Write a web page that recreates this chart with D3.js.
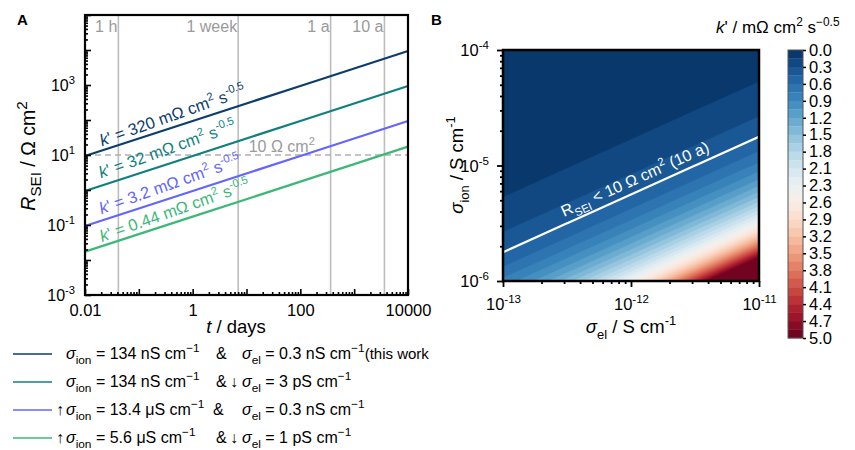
<!DOCTYPE html>
<html>
<head>
<meta charset="utf-8">
<script src="https://cdn.jsdelivr.net/npm/d3@7"></script>
<style>
  body { margin: 0; background: #fff; }
  svg { font-family: "Liberation Sans", Arial, sans-serif; }
</style>
</head>
<body>
<div id="chart"></div>
<script>
// ---- panel A data: R_SEI (Ohm cm2) vs t (days), straight lines in log-log
var tDays = [0.01, 1, 100, 10000];
var rThisWork = [9.41, 94.1, 941, 9406];
var rLowEl = [0.941, 9.41, 94.1, 941];
var rHighIon = [0.0941, 0.941, 9.41, 94.1];
var rBoth = [0.0173, 0.173, 1.73, 17.3];
var kLabels = ["320", "32", "3.2", "0.44"];

var timeMarks = [1 / 24, 7, 365, 3650];
var timeLabels = ["1 h", "1 week", "1 a", "10 a"];
var rLimit = 10;

var legendIon = ["134 nS cm", "134 nS cm", "13.4 \u03bcS cm", "5.6 \u03bcS cm"];
var legendEl = ["0.3 nS cm", "3 pS cm", "0.3 nS cm", "1 pS cm"];
var ionArrow = ["", "", "\u2191", "\u2191"];
var elArrow = ["", "\u2193", "", "\u2193"];
var legendNote = ["(this work", "", "", ""];

// ---- panel B data: k' (mOhm cm2 s^-0.5) on a grid of sigma_el x sigma_ion
var sigmaEl = [1e-13, 3.16e-13, 1e-12, 3.16e-12, 1e-11];
var sigmaIon = [1e-6, 3.16e-6, 1e-5, 3.16e-5, 1e-4];
var kGrid = [
    [0.78, 1.39, 2.47, 4.39, 7.80],
    [0.247, 0.439, 0.780, 1.39, 2.47],
    [0.078, 0.139, 0.247, 0.439, 0.780],
    [0.0247, 0.0439, 0.078, 0.139, 0.247],
    [0.0078, 0.0139, 0.0247, 0.0439, 0.078]
];
var kContour = 0.44;
var cbLabels = ["0.0", "0.3", "0.6", "0.9", "1.2", "1.5", "1.8", "2.1", "2.3",
                "2.6", "2.9", "3.2", "3.5", "3.8", "4.1", "4.4", "4.7", "5.0"];

var lineColors = ["#0b3d6d", "#0f7f7f", "#6464ff", "#3cb878"];
var series = [rThisWork, rLowEl, rHighIon, rBoth];

var svg = d3.select("#chart").append("svg")
    .attr("width", 855).attr("height", 450);

// rich text helper: parts = [{t, it, sub, sup, fs}]
function rich(sel, parts, size, subScale) {
    var base = 0, sc = subScale || 0.7;
    parts.forEach(function(p) {
        var s = sel.append("tspan").text(p.t);
        var shift = p.sub ? size * 0.3 : (p.sup ? -size * 0.42 : 0);
        if (shift - base !== 0) s.attr("dy", shift - base);
        base = shift;
        if (p.sub || p.sup) s.attr("font-size", size * sc);
        if (p.fs) s.attr("font-size", p.fs);
        if (p.it) s.attr("font-style", "italic");
    });
    return sel;
}

function minorTicks(lo, hi) {
    var out = [];
    for (var d = lo; d < hi; d++) {
        for (var m = 2; m < 10; m++) out.push(m * Math.pow(10, d));
    }
    return out;
}

function logInterp(xs, ys, x) {
    var lx = Math.log10(x), l0 = Math.log10(xs[0]), l1 = Math.log10(xs[1]);
    var f = (lx - l0) / (l1 - l0);
    return Math.pow(10, Math.log10(ys[0]) + f * (Math.log10(ys[1]) - Math.log10(ys[0])));
}

// ================= Panel A =================
var xA = d3.scaleLog().domain([0.01, 10000]).range([85, 408]);
var yA = d3.scaleLog().domain([1e-3, 1e5]).range([295, 15]);

svg.append("text").attr("x", 17).attr("y", 25)
    .attr("font-size", 15).attr("font-weight", "bold").text("A");

var gA = svg.append("g");

// time markers
gA.selectAll("line.tm").data(timeMarks).enter().append("line")
    .attr("x1", d => xA(d)).attr("x2", d => xA(d))
    .attr("y1", yA(1e5)).attr("y2", yA(1e-3))
    .attr("stroke", "#bdbdbd").attr("stroke-width", 1.6);
gA.selectAll("text.tm").data(timeMarks).enter().append("text")
    .attr("x", d => xA(d) - 1).attr("y", 32)
    .attr("text-anchor", "end").attr("font-size", 16).attr("fill", "#9a9a9a")
    .text((d, i) => timeLabels[i]);

// 10 Ohm cm2 limit
gA.append("line")
    .attr("x1", xA(0.01)).attr("x2", xA(10000))
    .attr("y1", yA(rLimit)).attr("y2", yA(rLimit))
    .attr("stroke", "#b0b0b0").attr("stroke-width", 1.6)
    .attr("stroke-dasharray", "6,4");
rich(gA.append("text").attr("x", xA(11)).attr("y", yA(rLimit) - 3)
    .attr("font-size", 16).attr("fill", "#9a9a9a"),
    [{t: rLimit + " \u03a9 cm"}, {t: "2", sup: true}], 16);

// lines
var lineA = d3.line().x((d, i) => xA(tDays[i])).y(d => yA(d));
series.forEach(function(s, i) {
    gA.append("path").datum(s).attr("d", lineA)
        .attr("fill", "none").attr("stroke", lineColors[i]).attr("stroke-width", 2.2);
});

// rotated labels along the lines
var slopeAng = Math.atan2(yA(rThisWork[3]) - yA(rThisWork[0]), xA(tDays[3]) - xA(tDays[0])) * 180 / Math.PI;
var labelDy = [-4, -7, -6, -4];
series.forEach(function(s, i) {
    var t0 = 0.022;
    var px = xA(t0), py = yA(logInterp(tDays, s, t0));
    var txt = gA.append("text")
        .attr("transform", "translate(" + px + "," + py + ") rotate(" + (slopeAng - 1.5) + ")")
        .attr("y", labelDy[i])
        .attr("font-size", 16.5).attr("fill", lineColors[i]);
    rich(txt, [{t: "k", it: true}, {t: "' = " + kLabels[i] + " m\u03a9 cm"},
               {t: "2", sup: true}, {t: " s"}, {t: "-0.5", sup: true}], 16.5, 0.68);
});

// axes (ticks inward)
var axBA = gA.append("g").attr("transform", "translate(0,295)");
axBA.call(d3.axisBottom(xA).tickValues(minorTicks(-2, 4)).tickSizeInner(-3).tickSizeOuter(0).tickFormat(""));
axBA.call(g => g.select(".domain").remove());
var axBA2 = gA.append("g").attr("transform", "translate(0,295)");
axBA2.call(d3.axisBottom(xA).tickValues([0.01, 0.1, 1, 10, 100, 1000, 10000])
    .tickSizeInner(-6).tickSizeOuter(0).tickPadding(9)
    .tickFormat(d => [0.01, 1, 100, 10000].indexOf(d) >= 0 ? String(d) : ""));
axBA2.call(g => g.select(".domain").remove());
axBA2.selectAll("text").attr("font-size", 16.5).attr("fill", "#000").attr("font-family", "Liberation Sans, Arial");

var axLA = gA.append("g").attr("transform", "translate(85,0)");
axLA.call(d3.axisLeft(yA).tickValues(minorTicks(-3, 5)).tickSizeInner(-3).tickSizeOuter(0).tickFormat(""));
axLA.call(g => g.select(".domain").remove());
var axLA2 = gA.append("g").attr("transform", "translate(85,0)");
axLA2.call(d3.axisLeft(yA).tickValues(d3.range(-3, 6).map(e => Math.pow(10, e)))
    .tickSizeInner(-6).tickSizeOuter(0).tickPadding(11).tickFormat(""));
axLA2.call(g => g.select(".domain").remove());
axLA2.selectAll(".tick").each(function(d) {
    var e = Math.round(Math.log10(d));
    if ([-3, -1, 1, 3].indexOf(e) < 0) return;
    var t = d3.select(this).select("text").attr("font-size", 16).attr("fill", "#000")
        .attr("font-family", "Liberation Sans, Arial").attr("dy", "0.35em").attr("x", -10);
    rich(t, [{t: "10"}, {t: String(e), sup: true}], 16);
});
[axBA, axBA2, axLA, axLA2].forEach(g => g.selectAll("line").attr("stroke-width", 1.6));

gA.append("rect").attr("x", 85).attr("y", 15).attr("width", 323).attr("height", 280)
    .attr("fill", "none").attr("stroke", "#000").attr("stroke-width", 2.2);

rich(svg.append("text").attr("transform", "translate(236,333)")
    .attr("text-anchor", "middle").attr("font-size", 18.5),
    [{t: "t", it: true}, {t: " / days"}], 18.5);
rich(svg.append("text").attr("transform", "translate(35,156) rotate(-90)")
    .attr("text-anchor", "middle").attr("font-size", 19.5),
    [{t: "R", it: true}, {t: "SEI", sub: true}, {t: " / \u03a9 cm"}, {t: "2", sup: true}], 19.5, 0.78);

// legend
var legendG = svg.append("g");
legendIon.forEach(function(d, i) {
    var y = 354 + i * 28;
    legendG.append("line").attr("x1", 13).attr("x2", 52).attr("y1", y).attr("y2", y)
        .attr("stroke", lineColors[i]).attr("stroke-width", 1.6);
    var fs = 16;
    if (ionArrow[i]) legendG.append("text").attr("x", 56).attr("y", y + 5).attr("font-size", fs).text(ionArrow[i]);
    rich(legendG.append("text").attr("x", 66).attr("y", y + 5).attr("font-size", fs),
        [{t: "\u03c3", it: true}, {t: "ion", sub: true}, {t: " = " + d}, {t: "\u22121", sup: true}], fs, 0.74);
    legendG.append("text").attr("x", i === 2 ? 213 : 216).attr("y", y + 5).attr("font-size", fs).text("&");
    if (elArrow[i]) legendG.append("text").attr("x", 230).attr("y", y + 5).attr("font-size", fs).text(elArrow[i]);
    var parts = [{t: "\u03c3", it: true}, {t: "el", sub: true}, {t: " = " + legendEl[i]}, {t: "\u22121", sup: true}];
    if (legendNote[i]) parts.push({t: legendNote[i], fs: 15});
    rich(legendG.append("text").attr("x", 242).attr("y", y + 5).attr("font-size", fs), parts, fs, 0.74);
});

// ================= Panel B =================
var xB = d3.scaleLog().domain([1e-13, 1e-11]).range([503, 759]);
var yB = d3.scaleLog().domain([1e-6, 1e-4]).range([281, 50]);

svg.append("text").attr("x", 431).attr("y", 25)
    .attr("font-size", 15).attr("font-weight", "bold").text("B");

var nBands = 34;
var kLevels = d3.range(nBands + 1).map(i => i * 5 / nBands);
var bandColor = i => d3.interpolateRdBu(1 - (i + 0.5) / nBands);

var defs = svg.append("defs");
defs.append("clipPath").attr("id", "clipB").append("rect")
    .attr("x", 503).attr("y", 50).attr("width", 256).attr("height", 231);

var gB = svg.append("g").attr("clip-path", "url(#clipB)");
var nx = sigmaEl.length, ny = sigmaIon.length;
var lx0 = Math.log10(sigmaEl[0]), dlx = (Math.log10(sigmaEl[nx - 1]) - lx0) / (nx - 1);
var ly0 = Math.log10(sigmaIon[0]), dly = (Math.log10(sigmaIon[ny - 1]) - ly0) / (ny - 1);
var gridProj = d3.geoTransform({
    point: function(cx, cy) {
        this.stream.point(xB(Math.pow(10, lx0 + (cx - 0.5) * dlx)),
                          yB(Math.pow(10, ly0 + (cy - 0.5) * dly)));
    }
});
var gridPath = d3.geoPath(gridProj);
var logValues = [];
kGrid.forEach(row => row.forEach(v => logValues.push(Math.log10(v))));

gB.append("rect").attr("x", 503).attr("y", 50).attr("width", 256).attr("height", 231)
    .attr("fill", bandColor(0));
var bands = d3.contours().size([nx, ny])
    .thresholds(kLevels.slice(1, nBands).map(Math.log10))(logValues);
gB.selectAll("path.band").data(bands).enter().append("path")
    .attr("d", gridPath)
    .attr("fill", (d, i) => bandColor(i + 1))
    .attr("stroke", (d, i) => bandColor(i + 1)).attr("stroke-width", 0.5);

var limit = d3.contours().size([nx, ny]).thresholds([Math.log10(kContour)])(logValues);
gB.append("path").datum(limit[0]).attr("d", gridPath)
    .attr("fill", "none").attr("stroke", "#fff").attr("stroke-width", 2.2);

// label along the white contour
function crossIon(col) {
    var lk = Math.log10(kContour);
    for (var j = 0; j < ny - 1; j++) {
        var a = Math.log10(kGrid[j][col]), b = Math.log10(kGrid[j + 1][col]);
        if ((a - lk) * (b - lk) <= 0) {
            var f = (lk - a) / (b - a);
            return Math.pow(10, Math.log10(sigmaIon[j]) + f * (Math.log10(sigmaIon[j + 1]) - Math.log10(sigmaIon[j])));
        }
    }
}
var pL = [xB(sigmaEl[0]), yB(crossIon(0))], pR = [xB(sigmaEl[nx - 1]), yB(crossIon(nx - 1))];
var angB = Math.atan2(pR[1] - pL[1], pR[0] - pL[0]) * 180 / Math.PI;
var fL = 0.25;
var lp = [pL[0] + fL * (pR[0] - pL[0]), pL[1] + fL * (pR[1] - pL[1])];
rich(svg.append("text")
    .attr("transform", "translate(" + lp[0] + "," + lp[1] + ") rotate(" + angB + ")")
    .attr("y", -7).attr("font-size", 16).attr("fill", "#fff"),
    [{t: "R"}, {t: "SEI", sub: true}, {t: " < 10 \u03a9 cm"}, {t: "2", sup: true}, {t: " (10 a)"}], 16);

// axes B (ticks outward)
var gBx = svg.append("g").attr("transform", "translate(0,281)");
gBx.call(d3.axisBottom(xB).tickValues(minorTicks(-13, -11)).tickSizeInner(3).tickSizeOuter(0).tickFormat(""));
gBx.call(g => g.select(".domain").remove());
var gBx2 = svg.append("g").attr("transform", "translate(0,281)");
gBx2.call(d3.axisBottom(xB).tickValues([1e-13, 1e-12, 1e-11]).tickSizeInner(6).tickSizeOuter(0).tickPadding(11).tickFormat(""));
gBx2.call(g => g.select(".domain").remove());
gBx2.selectAll(".tick text").each(function(d) {
    var t = d3.select(this).attr("font-size", 16.5).attr("fill", "#000")
        .attr("font-family", "Liberation Sans, Arial");
    rich(t, [{t: "10"}, {t: String(Math.round(Math.log10(d))), sup: true}], 16.5);
});
var gBy = svg.append("g").attr("transform", "translate(503,0)");
gBy.call(d3.axisLeft(yB).tickValues(minorTicks(-6, -4)).tickSizeInner(3).tickSizeOuter(0).tickFormat(""));
gBy.call(g => g.select(".domain").remove());
var gBy2 = svg.append("g").attr("transform", "translate(503,0)");
gBy2.call(d3.axisLeft(yB).tickValues([1e-6, 1e-5, 1e-4]).tickSizeInner(6).tickSizeOuter(0).tickPadding(8).tickFormat(""));
gBy2.call(g => g.select(".domain").remove());
gBy2.selectAll(".tick text").each(function(d) {
    var t = d3.select(this).attr("font-size", 16.5).attr("fill", "#000")
        .attr("font-family", "Liberation Sans, Arial").attr("dy", "0.35em");
    rich(t, [{t: "10"}, {t: String(Math.round(Math.log10(d))), sup: true}], 16.5);
});
[gBx, gBx2, gBy, gBy2].forEach(g => g.selectAll("line").attr("stroke-width", 1.8));

svg.append("rect").attr("x", 503).attr("y", 50).attr("width", 256).attr("height", 231)
    .attr("fill", "none").attr("stroke", "#000").attr("stroke-width", 2.5);

rich(svg.append("text").attr("transform", "translate(631,333)")
    .attr("text-anchor", "middle").attr("font-size", 18.5),
    [{t: "\u03c3", it: true}, {t: "el", sub: true}, {t: " / S cm"}, {t: "-1", sup: true}], 18.5);
rich(svg.append("text").attr("transform", "translate(463,165) rotate(-90)")
    .attr("text-anchor", "middle").attr("font-size", 18.5),
    [{t: "\u03c3", it: true}, {t: "ion", sub: true}, {t: " / S cm"}, {t: "-1", sup: true}], 18.5);

// colorbar
var cbY = d3.scaleLinear().domain([0, 5]).range([50, 338]);
var gC = svg.append("g");
gC.selectAll("rect.cb").data(d3.range(nBands)).enter().append("rect")
    .attr("x", 788).attr("width", 15)
    .attr("y", i => cbY(kLevels[i]))
    .attr("height", i => cbY(kLevels[i + 1]) - cbY(kLevels[i]) + 0.3)
    .attr("fill", i => bandColor(i));
gC.append("rect").attr("x", 788).attr("y", 50).attr("width", 15).attr("height", 288)
    .attr("fill", "none").attr("stroke", "#555").attr("stroke-width", 1);
var cbTickVals = cbLabels.map((d, i) => i * 5 / (cbLabels.length - 1));
var cbAxis = gC.append("g").attr("transform", "translate(803,0)");
cbAxis.call(d3.axisRight(cbY).tickValues(cbTickVals).tickSizeInner(3).tickSizeOuter(0).tickPadding(3)
    .tickFormat((d, i) => cbLabels[i]));
cbAxis.call(g => g.select(".domain").remove());
cbAxis.selectAll("line").attr("stroke-width", 1.5);
cbAxis.selectAll("text").attr("font-size", 16.5).attr("fill", "#000")
    .attr("font-family", "Liberation Sans Narrow, Liberation Sans, Arial");

rich(svg.append("text").attr("x", 716).attr("y", 33).attr("font-size", 17),
    [{t: "k", it: true}, {t: "' / m\u03a9 cm"}, {t: "2", sup: true}, {t: " s"}, {t: "\u22120.5", sup: true}], 17);
</script>
</body>
</html>
